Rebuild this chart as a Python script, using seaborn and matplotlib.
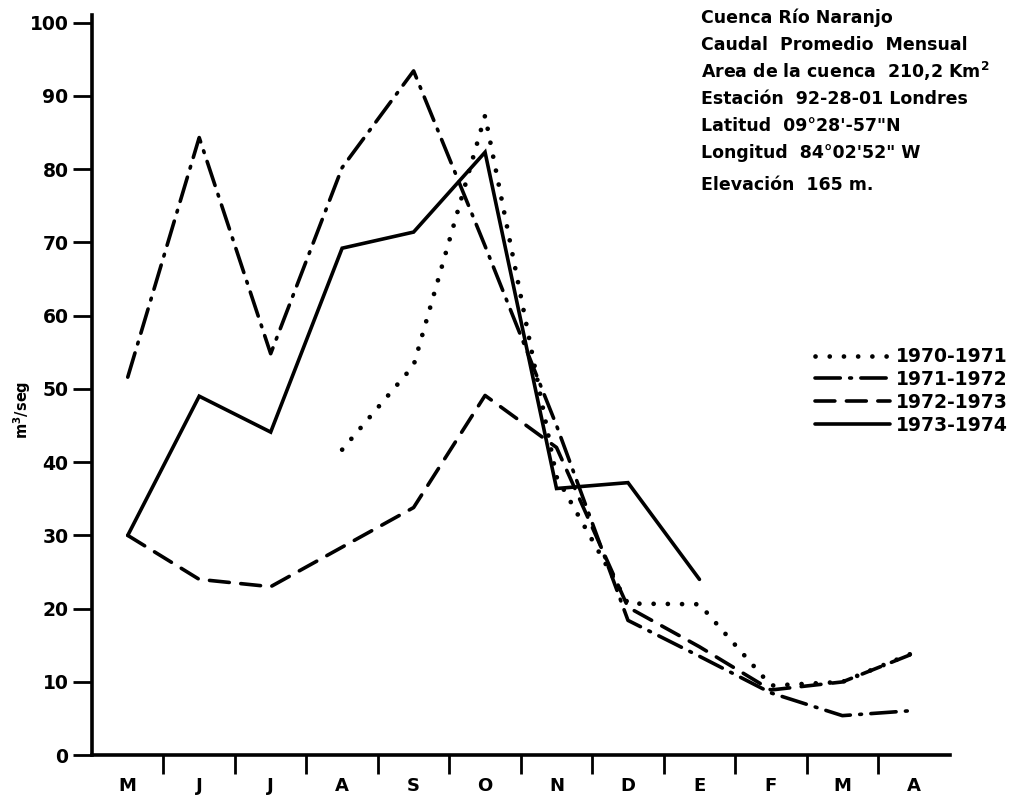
import matplotlib
matplotlib.use('Agg')
import matplotlib.pyplot as plt
import seaborn as sns
import pandas as pd
import numpy as np

# months from May to April (hydrological year)
months = ['M', 'J', 'J', 'A', 'S', 'O', 'N', 'D', 'E', 'F', 'M', 'A']
years = ['1970-1971', '1971-1972', '1972-1973', '1973-1974']

# monthly mean discharge, m3/s
q_1970 = [np.nan, np.nan, np.nan, 41.7, 53.2, 87.3, 38.0, 20.7, 20.6, 9.5, 10.0, 14.0]
q_1971 = [51.6, 84.3, 54.8, 80.2, 93.4, 69.5, 45.0, 18.4, 13.5, 8.5, 5.4, 6.1]
q_1972 = [30.0, 24.0, 23.0, 28.4, 33.8, 49.1, 42.0, 20.2, 14.8, 8.9, 10.0, 13.9]
q_1973 = [30.0, 49.0, 44.1, 69.2, 71.4, 82.3, 36.4, 37.2, 24.0, np.nan, np.nan, np.nan]

info_lines = ['Cuenca Río Naranjo',
              'Caudal  Promedio  Mensual',
              'Area de la cuenca  210,2 Km$^{\\mathbf{2}}$',
              'Estación  92-28-01 Londres',
              "Latitud  09°28'-57\"N",
              "Longitud  84°02'52\" W",
              'Elevación  165 m.']

rows = []
for yr, vals in zip(years, [q_1970, q_1971, q_1972, q_1973]):
    for i, v in enumerate(vals):
        rows.append({'mes': i, 'caudal': v, 'periodo': yr})
df = pd.DataFrame(rows).dropna()

sns.set_style('white')
plt.rcParams['font.family'] = ['DejaVu Sans']
plt.rcParams['text.color'] = 'black'
plt.rcParams['axes.labelcolor'] = 'black'
plt.rcParams['xtick.color'] = 'black'
plt.rcParams['ytick.color'] = 'black'

fig = plt.figure(figsize=(10.27, 8), dpi=100)
ax = fig.add_axes([0.0896, 0.056, 0.835, 0.925])

dashes = {'1970-1971': (0.01, 3.0),
          '1971-1972': (7, 2.6, 0.5, 2.6),
          '1972-1973': (5.5, 3.2),
          '1973-1974': ''}
sns.lineplot(data=df, x='mes', y='caudal', style='periodo', dashes=dashes,
             color='black', lw=2.6, ax=ax, legend=True,
             dash_capstyle='round', solid_joinstyle='miter')
# heavier dots for the dotted series
ax.lines[0].set_linewidth(3.4)

ax.set_xlim(-0.5, 11.5)
ax.set_ylim(0, 101)
ax.set_xticks(range(12))
ax.set_xticklabels(months, fontsize=13, fontweight='bold')
ax.set_xticks(np.arange(0.5, 11.5, 1), minor=True)
ax.tick_params(axis='x', which='major', length=0, pad=16)
ax.tick_params(axis='x', which='minor', direction='out', length=14, width=2, bottom=True)
ax.set_yticks(range(0, 101, 10))
ax.set_yticklabels([str(v) for v in range(0, 101, 10)], fontsize=13.5, fontweight='bold')
ax.tick_params(axis='y', direction='out', length=14, width=2, left=True, pad=3)
ax.set_xlabel('')
ax.set_ylabel('')
fig.text(0.022, 0.488, 'm$^{\\mathbf{3}}$/seg', fontsize=10.5, fontweight='bold',
         rotation=90, ha='center', va='center')

for s in ['top', 'right']:
    ax.spines[s].set_visible(False)
for s in ['left', 'bottom']:
    ax.spines[s].set_linewidth(2.6)
    ax.spines[s].set_color('black')

handles, labels = ax.get_legend_handles_labels()
leg = ax.legend(handles, labels, loc='upper left', bbox_to_anchor=(0.777, 0.587),
                bbox_transform=fig.transFigure, frameon=False,
                prop={'size': 13.5, 'weight': 'bold'},
                handlelength=4.0, handletextpad=0.35, labelspacing=0.2)
for h in leg.get_lines():
    h.set_linewidth(2.6)
leg.get_lines()[0].set_linewidth(3.4)

y0 = 0.978
for k, line in enumerate(info_lines):
    fig.text(0.683, y0 - k * 0.0338 - (0.006 if k == 6 else 0), line,
             fontsize=12.5, fontweight='bold', va='center', ha='left')

fig.savefig('out.png', dpi=100, facecolor='white')
